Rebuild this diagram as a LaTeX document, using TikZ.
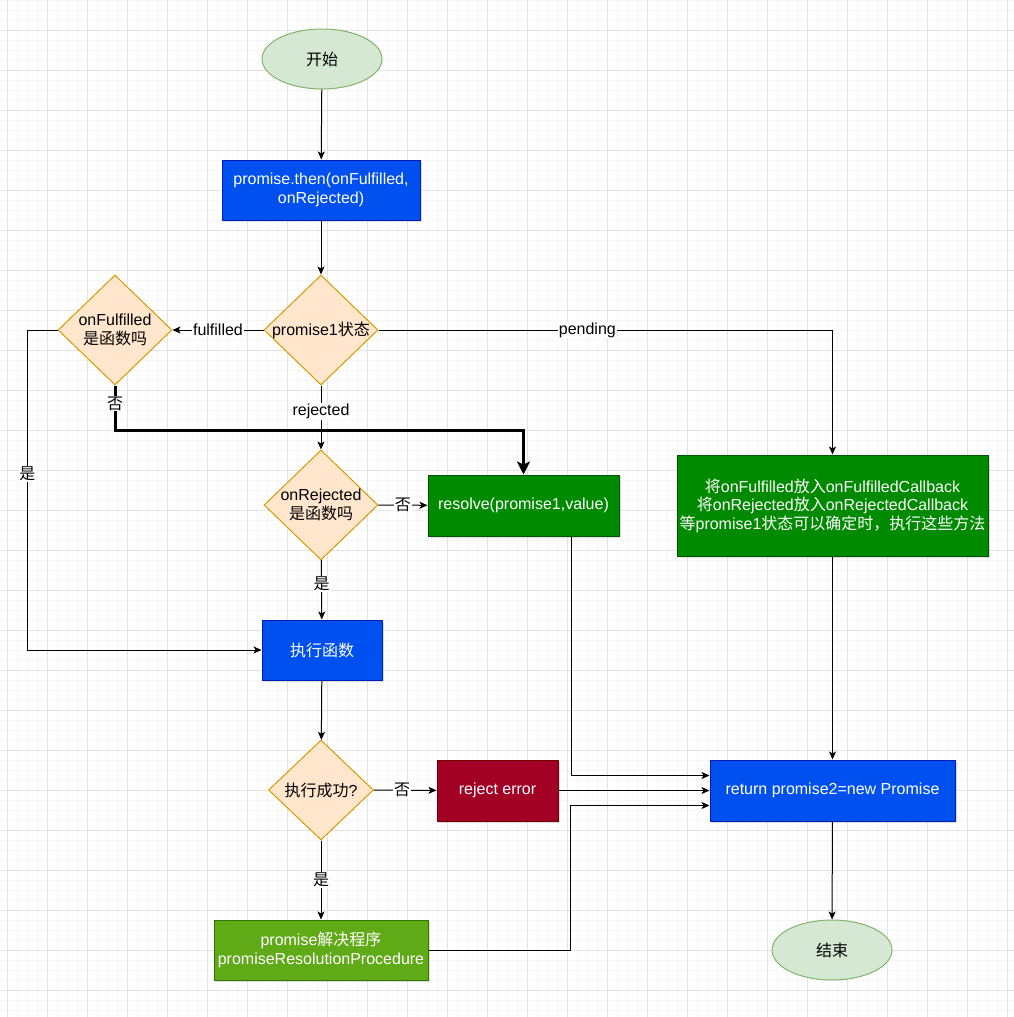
\documentclass[tikz,border=0pt]{standalone}
\usepackage{fontspec}
\setmainfont{Liberation Sans}
\newfontfamily\cjkfont{Noto Sans CJK SC}
\newcommand\zh[1]{{\cjkfont #1}}
\usetikzlibrary{shapes.geometric,arrows.meta,shadows}
\definecolor{gridmajor}{HTML}{E3E3E3}
\definecolor{gridminor}{HTML}{F6F6F6}
\definecolor{decfill}{HTML}{FFE6CC}
\definecolor{decdraw}{HTML}{D79B00}
\definecolor{termfill}{HTML}{D5E8D4}
\definecolor{termdraw}{HTML}{82B366}
\definecolor{bluefill}{HTML}{0050EF}
\definecolor{bluedraw}{HTML}{001DBC}
\definecolor{greenfill}{HTML}{008A00}
\definecolor{greendraw}{HTML}{005700}
\definecolor{redfill}{HTML}{A20025}
\definecolor{reddraw}{HTML}{6F0000}
\definecolor{limefill}{HTML}{60A917}
\definecolor{limedraw}{HTML}{2D7600}
\tikzset{
  boxshadow/.style={drop shadow={opacity=0.25,shadow xshift=2pt,shadow yshift=-2pt}},
  terminal/.style={ellipse,draw=termdraw,fill=termfill,line width=1pt,
    minimum width=120,minimum height=60,text=black},
  decision/.style={diamond,draw=decdraw,fill=decfill,line width=1pt,inner sep=-6pt,
    minimum width=114,minimum height=110,align=center,text=black},
  procbox/.style={rectangle,line width=1pt,inner sep=2pt,align=center,text=white,boxshadow},
  bluebox/.style={procbox,draw=bluedraw,fill=bluefill},
  greenbox/.style={procbox,draw=greendraw,fill=greenfill},
  redbox/.style={procbox,draw=reddraw,fill=redfill},
  limebox/.style={procbox,draw=limedraw,fill=limefill},
  lbl/.style={fill=white,inner sep=1pt,text=black},
  edge/.style={->,line width=1pt}
}
\begin{document}
\begin{tikzpicture}[x=1pt,y=-1pt,>={Stealth[length=8pt,width=7pt,inset=2pt]},
  every node/.append style={font=\fontsize{16}{18.5}\selectfont}]
  \useasboundingbox (0,0) rectangle (1014,1017);
  \fill[white] (0,0) rectangle (1014,1017);
  % background grid
  \foreach \x in {7,17,...,1007}
     \draw[gridminor,line width=1pt] (\x,0) -- (\x,1017);
  \foreach \y in {0,10,...,1010}
     \draw[gridminor,line width=1pt] (0,\y) -- (1014,\y);
  \foreach \x in {7,47,...,1007}
     \draw[gridmajor,line width=1pt] (\x,0) -- (\x,1017);
  \foreach \y in {30,70,...,990}
     \draw[gridmajor,line width=1pt] (0,\y) -- (1014,\y);

  \node[terminal] (start) at (322,59) {\zh{开始}};
  \node[bluebox,minimum width=198,minimum height=60] (then) at (321,190) {promise.then(onFulfilled,\\onRejected)};
  \node[decision] (state) at (321,330) {promise1\zh{状态}};
  \node[decision] (isfulf) at (115,330) {onFulfilled\\\zh{是函数吗}};
  \node[decision] (isrej) at (321,505) {onRejected\\\zh{是函数吗}};
  \node[greenbox,minimum width=191,minimum height=61] (resolve) at (523.5,505.5) {resolve(promise1,value)};
  \node[greenbox,minimum width=311,minimum height=101] (pending) at (832.5,505.5) {\zh{将}onFulfilled\zh{放入}onFulfilledCallback\\\zh{将}onRejected\zh{放入}onRejectedCallback\\\zh{等}promise1\zh{状态可以确定时，执行这些方法}};
  \node[bluebox,minimum width=120,minimum height=60] (exec) at (322,650) {\zh{执行函数}};
  \node[decision,minimum width=105,minimum height=100] (ok) at (321,790) {\zh{执行成功}?};
  \node[redbox,minimum width=121,minimum height=61] (reject) at (497.5,790.5) {reject error};
  \node[bluebox,minimum width=245,minimum height=61] (ret) at (832.5,790.5) {return promise2=new Promise};
  \node[limebox,minimum width=214,minimum height=60] (proc) at (321,950) {promise\zh{解决程序}\\promiseResolutionProcedure};
  \node[terminal] (end) at (832,950) {\zh{结束}};

  \draw[edge] (start) -- (then);
  \draw[edge] (then) -- (state);
  \draw[edge] (state) -- node[lbl] (lfulf) {fulfilled} (isfulf);
  \draw[edge] (state.east) -| node[lbl,pos=0.23] (lpend) {pending} (pending.north);
  \draw[edge] (state) -- node[lbl,pos=0.41] (lrej) {rejected} (isrej);
  \draw[line width=3pt,-{Stealth[length=13pt,width=13pt,inset=3pt]}] (isfulf.south)
     |- node[lbl,pos=0.2] (lfno) {\zh{否}} ([yshift=44pt]resolve.north) -- (resolve.north);
  \draw[edge] (isfulf.west) -- ++(-30,0) |- node[lbl,pos=0.225] (lfyes) {\zh{是}} (exec.west);
  \draw[edge] (isrej) -- node[lbl] (lrno) {\zh{否}} (resolve);
  \draw[edge] (isrej) -- node[lbl,pos=0.4] (lryes) {\zh{是}} (exec);
  \draw[edge] (exec) -- (ok);
  \draw[edge] (ok) -- node[lbl,pos=0.45] (lokno) {\zh{否}} (reject);
  \draw[edge] (ok) -- node[lbl] (lokyes) {\zh{是}} (proc);
  \draw[edge] ([xshift=47.5pt]resolve.south) |- ([yshift=15pt]ret.west);
  \draw[edge] (reject) -- (ret);
  \draw[edge] (proc.east) -- ++(142,0) |- ([yshift=-15pt]ret.west);
  \draw[edge] (pending) -- (ret);
  \draw[edge] (ret) -- (end);
\end{tikzpicture}
\end{document}
